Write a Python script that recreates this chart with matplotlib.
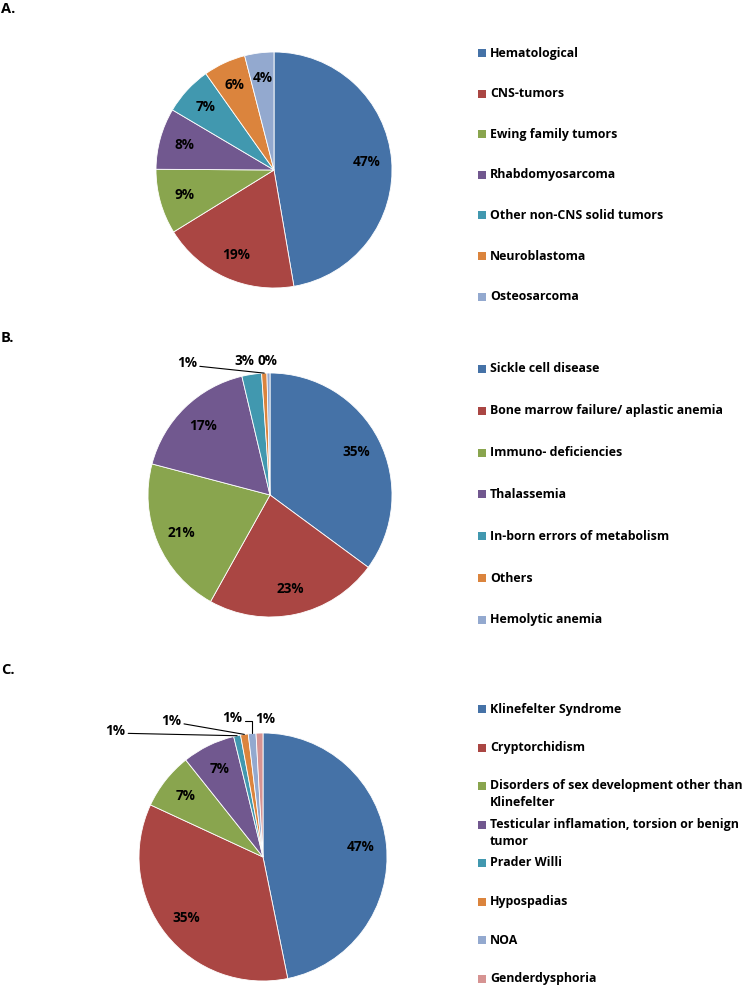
import matplotlib
matplotlib.use("Agg")
import matplotlib.pyplot as plt
from matplotlib.patches import Rectangle
import numpy as np

plt.rcParams['font.family'] = ['Open Sans', 'DejaVu Sans']
plt.rcParams['font.weight'] = 'bold'

# ---------------- data ----------------
a_labels = ["Hematological", "CNS-tumors", "Ewing family tumors", "Rhabdomyosarcoma",
            "Other non-CNS solid tumors", "Neuroblastoma", "Osteosarcoma"]
a_values = [47.3, 18.9, 8.9, 8.4, 6.7, 5.8, 4.0]

b_labels = ["Sickle cell disease", "Bone marrow failure/ aplastic anemia", "Immuno- deficiencies",
            "Thalassemia", "In-born errors of metabolism", "Others", "Hemolytic anemia"]
b_values = [35.1, 23.0, 21.0, 17.2, 2.6, 0.7, 0.4]

c_labels = ["Klinefelter Syndrome", "Cryptorchidism",
            "Disorders of sex development other than\nKlinefelter",
            "Testicular inflamation, torsion or benign\ntumor",
            "Prader Willi", "Hypospadias", "NOA", "Genderdysphoria"]
c_values = [46.8, 35.1, 7.4, 6.9, 0.9, 1.0, 1.0, 0.9]

colors = ["#4572A7", "#AA4643", "#89A54E", "#71588F", "#4198AF", "#DB843D", "#93A9CF", "#D69392"]

W, H = 751, 986
fig = plt.figure(figsize=(W / 100, H / 100), dpi=100)

FS = 9.8      # pie labels
LFS = 8.9     # legend text
WT = 'bold'


def pie_axes(cx, cy, r):
    ax = fig.add_axes([(cx - r) / W, (H - cy - r) / H, 2 * r / W, 2 * r / H])
    return ax


def draw_pie(ax, values, small=None):
    small = small or {}
    wedges, _ = ax.pie(values, colors=colors[:len(values)], startangle=90, counterclock=False,
                       radius=1, wedgeprops=dict(linewidth=0.6, edgecolor='white'))
    ax.set_xlim(-1, 1)
    ax.set_ylim(-1, 1)
    ax.set_aspect('equal')
    ax.axis('off')
    for i, (w, v) in enumerate(zip(wedges, values)):
        txt = f"{round(v):d}%"
        mid = np.deg2rad((w.theta1 + w.theta2) / 2)
        if i in small:
            tx, ty, kind = small[i]
            ex, ey = np.cos(mid), np.sin(mid)
            if kind is None:
                ax.text(tx, ty, txt, ha='center', va='center', fontsize=FS, fontweight=WT)
            else:
                ax.annotate(txt, xy=(ex, ey), xytext=(tx, ty), ha='center', va='center',
                            fontsize=FS, fontweight=WT, annotation_clip=False,
                            arrowprops=dict(arrowstyle='-', color='black', lw=0.8,
                                            shrinkA=0, shrinkB=0, relpos=(1.0, 0.3),
                                            connectionstyle=kind))
        else:
            ax.text(0.79 * np.cos(mid), 0.79 * np.sin(mid), txt, ha='center', va='center',
                    fontsize=FS, fontweight=WT)


def draw_legend(labels, x, y0, step, linespacing=1.2):
    for i, lab in enumerate(labels):
        y = y0 + i * step
        fig.patches.append(Rectangle((x / W, 1 - (y + 4) / H), 8 / W, 8 / H,
                                     transform=fig.transFigure, facecolor=colors[i],
                                     edgecolor='none'))
        fig.text((x + 12) / W, 1 - (y - 6.5) / H, lab, ha='left', va='top', fontsize=LFS,
                 fontweight=WT, linespacing=linespacing)


# panel letters
for lt, yy in [("A.", 9), ("B.", 338), ("C.", 670)]:
    fig.text(1 / W, 1 - yy / H, lt, ha='left', va='center', fontsize=10.5, fontweight=WT)

# Pie A
axA = pie_axes(274, 170, 118)
draw_pie(axA, a_values)
draw_legend(a_labels, 478, 53, 40.6)

# Pie B
axB = pie_axes(270, 495, 122)
draw_pie(axB, b_values, small={4: (-0.21, 1.10, None),
                               5: (-0.68, 1.08, "arc3"),
                               6: (-0.02, 1.10, None)})
draw_legend(b_labels, 478, 369, 41.8)

# Pie C
axC = pie_axes(263, 857, 124)
draw_pie(axC, c_values, small={4: (-1.19, 1.02, "arc3"),
                               5: (-0.74, 1.10, "arc3"),
                               6: (-0.25, 1.12, "angle,angleA=0,angleB=90,rad=0"),
                               7: (0.02, 1.11, None)})
draw_legend(c_labels, 478, 709, 38.5, linespacing=1.4)

fig.savefig("out.png", dpi=100, facecolor='white')
